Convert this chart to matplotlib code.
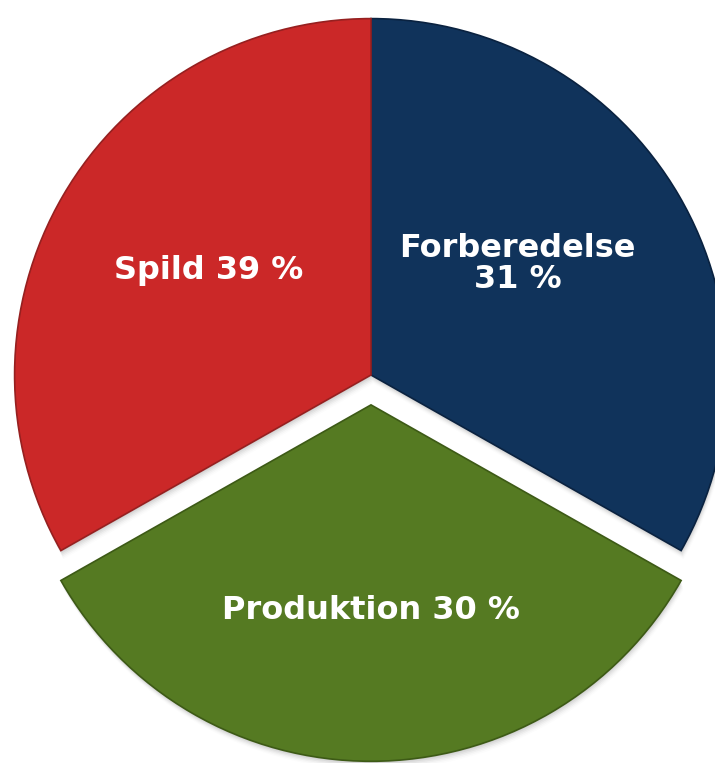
import numpy as np
import matplotlib.pyplot as plt
from matplotlib.patches import Wedge

# slice shares as drawn in the picture (the three wedges are close to thirds)
categories = ['Forberedelse', 'Produktion', 'Spild']
slice_share = [33.2, 33.6, 33.2]
label_pct = [31, 30, 39]
label_text = ['Forberedelse\n31 %', 'Produktion 30 %', 'Spild 39 %']
colors = ['#10335b', '#557a22', '#cb2828']
edge_colors = ['#0a2240', '#3d5a16', '#962020']
explode = [0, 0.083, 0]

fig = plt.figure(figsize=(7.15, 7.63), dpi=100)
ax = fig.add_axes([0, 0, 1, 1])

wedges, _ = ax.pie(slice_share, colors=colors, explode=explode, startangle=90,
                   counterclock=False, radius=0.99,
                   wedgeprops=dict(linewidth=1.2))
for w, ec in zip(wedges, edge_colors):
    w.set_edgecolor(ec)

# soft shadow underneath each wedge
for w in wedges:
    cx, cy = w.center
    for k, a in zip(range(6), [0.05, 0.045, 0.04, 0.03, 0.02, 0.01]):
        d = 0.004 * (k + 1)
        sh = Wedge((cx + d * 0.3, cy - d), w.r, w.theta1, w.theta2,
                   facecolor='black', edgecolor='none', alpha=a, zorder=0)
        ax.add_patch(sh)

# label radius (fraction of the pie radius) and angle nudge
label_r = [0.51, 0.57, 0.535]
label_ang_shift = [6.8, 0, -2.5]
for w, txt, r, da in zip(wedges, label_text, label_r, label_ang_shift):
    ang = np.deg2rad((w.theta1 + w.theta2) / 2 + da)
    cx, cy = w.center
    ax.text(cx + r * np.cos(ang), cy + r * np.sin(ang), txt,
            ha='center', va='center', color='white', fontsize=23,
            fontweight='bold', family='DejaVu Sans', linespacing=1.0)

ax.set_xlim(-371 / 360, (715 - 371) / 360)
ax.set_ylim(-388 / 360, 375 / 360)
ax.set_aspect('auto')
ax.axis('off')

fig.savefig('out.png', dpi=100)
